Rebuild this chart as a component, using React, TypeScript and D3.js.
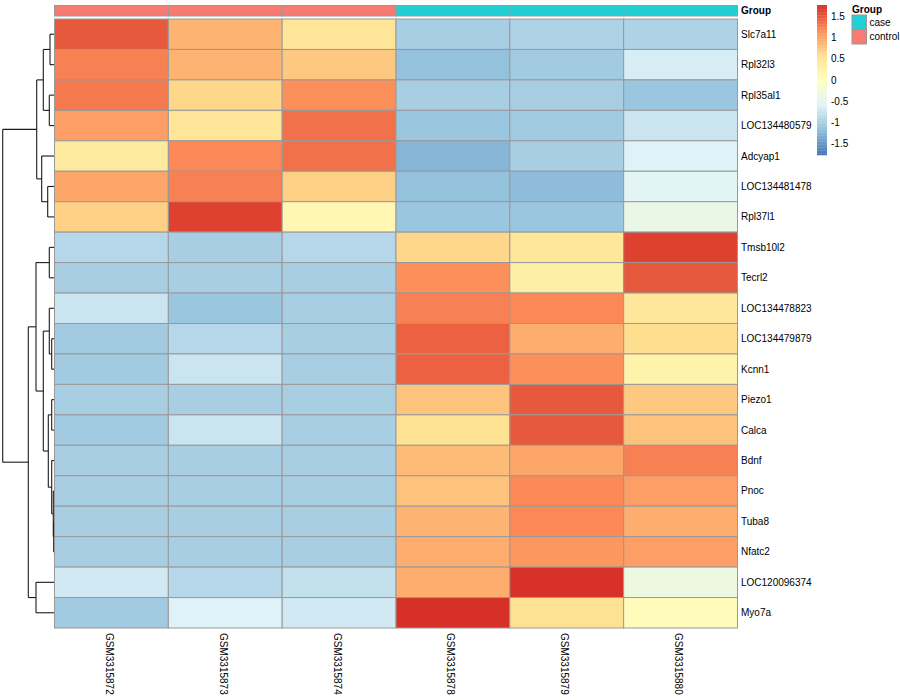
import React from "react";
import * as d3 from "d3";

const genes = [
  "Slc7a11", "Rpl32l3", "Rpl35al1", "LOC134480579", "Adcyap1", "LOC134481478", "Rpl37l1",
  "Tmsb10l2", "Tecrl2", "LOC134478823", "LOC134479879", "Kcnn1", "Piezo1", "Calca",
  "Bdnf", "Pnoc", "Tuba8", "Nfatc2", "LOC120096374", "Myo7a",
];
const samples = ["GSM3315872", "GSM3315873", "GSM3315874", "GSM3315878", "GSM3315879", "GSM3315880"];
const sampleGroups = ["control", "control", "control", "case", "case", "case"];
const groupLevels = ["case", "control"];
const groupColors = ["#22CFD4", "#F77B72"];

// row-scaled expression (z-scores), one row per gene, columns in sample order
const zValues: number[][] = [
  [1.5, 0.9, 0.5, -1.0, -0.95, -0.95],
  [1.25, 0.9, 0.75, -1.15, -1.05, -0.65],
  [1.3, 0.65, 1.15, -1.0, -1.0, -1.1],
  [1.05, 0.5, 1.35, -1.1, -1.05, -0.75],
  [0.4, 1.2, 1.35, -1.25, -1.0, -0.6],
  [1.0, 1.25, 0.7, -1.15, -1.2, -0.55],
  [0.7, 1.65, 0.15, -1.1, -1.1, -0.4],
  [-0.9, -1.0, -0.9, 0.65, 0.45, 1.65],
  [-1.0, -1.0, -1.0, 1.15, 0.3, 1.5],
  [-0.75, -1.1, -1.0, 1.25, 1.2, 0.45],
  [-1.05, -0.9, -1.0, 1.45, 0.95, 0.6],
  [-1.05, -0.75, -1.0, 1.45, 1.15, 0.25],
  [-1.0, -1.0, -1.0, 0.8, 1.5, 0.75],
  [-1.05, -0.75, -1.0, 0.55, 1.5, 0.8],
  [-1.0, -1.0, -1.0, 0.85, 1.0, 1.25],
  [-1.0, -1.0, -1.0, 0.8, 1.2, 1.05],
  [-1.0, -1.0, -1.0, 0.9, 1.2, 0.95],
  [-1.0, -1.0, -1.0, 0.95, 1.1, 1.05],
  [-0.7, -0.9, -0.8, 0.95, 1.75, -0.35],
  [-1.05, -0.6, -0.7, 1.76, 0.55, 0.05],
];

// hclust-style merges: negative = leaf (-(row index + 1)), positive = earlier merge (1-based), then height
const rowMerges: [number, number, number][] = [
  [-1, -2, 4.0],
  [-3, -4, 4.7],
  [1, 2, 10.7],
  [-6, -7, 6.3],
  [-5, 4, 12.3],
  [3, 5, 17.3],
  [-8, -9, 4.7],
  [-11, -12, 2.3],
  [-10, 8, 4.7],
  [-13, -14, 2.3],
  [-17, -18, 0.3],
  [-16, 11, 0.7],
  [-15, 12, 2.3],
  [10, 13, 5.7],
  [9, 14, 10.7],
  [7, 15, 18.0],
  [-19, -20, 18.0],
  [16, 17, 25.7],
  [6, 18, 51.3],
];

const legendTicks = [1.5, 1, 0.5, 0, -0.5, -1, -1.5];
const colorLimit = 1.76;
const palette = ["#4575B4", "#91BFDB", "#E0F3F8", "#FFFFBF", "#FEE090", "#FC8D59", "#D73027"];

const FONT = "'Liberation Sans', Arial, Helvetica, sans-serif";

export default function App() {
  const W = 900;
  const H = 700;
  const hmLeft = 54.5;
  const hmRight = 737.5;
  const hmTop = 19;
  const hmBottom = 628;
  const grid = "#999999";

  const colorScale = d3
    .scaleLinear<string>()
    .domain(d3.range(palette.length).map((i) => -colorLimit + (2 * colorLimit * i) / (palette.length - 1)))
    .range(palette)
    .interpolate(d3.interpolateRgb)
    .clamp(true);

  const x = d3.scaleBand<string>().domain(samples).range([hmLeft, hmRight]);
  const y = d3.scaleBand<string>().domain(genes).range([hmTop, hmBottom]);
  const groupColor = d3.scaleOrdinal<string, string>().domain(groupLevels).range(groupColors);

  // dendrogram
  const maxH = d3.max(rowMerges, (m) => m[2]) as number;
  const hx = d3.scaleLinear().domain([0, maxH]).range([54, 2.7]);
  const nodeY: number[] = [];
  const nodeH: number[] = [];
  const pos = (ref: number) =>
    ref < 0
      ? { y: (y(genes[-ref - 1]) as number) + y.bandwidth() / 2, h: 0 }
      : { y: nodeY[ref - 1], h: nodeH[ref - 1] };
  const segs: { x1: number; y1: number; x2: number; y2: number }[] = [];
  rowMerges.forEach(([a, b, h], i) => {
    const pa = pos(a);
    const pb = pos(b);
    nodeY[i] = (pa.y + pb.y) / 2;
    nodeH[i] = h;
    segs.push({ x1: hx(pa.h), y1: pa.y, x2: hx(h), y2: pa.y });
    segs.push({ x1: hx(pb.h), y1: pb.y, x2: hx(h), y2: pb.y });
    segs.push({ x1: hx(h), y1: pa.y, x2: hx(h), y2: pb.y });
  });

  // legend
  const legTop = 5;
  const legBottom = 155;
  const ly = d3.scaleLinear().domain([-colorLimit, colorLimit]).range([legBottom, legTop]);
  const nSteps = 100;
  const steps = d3.range(nSteps).map((i) => -colorLimit + ((i + 0.5) * 2 * colorLimit) / nSteps);
  const stepH = (legBottom - legTop) / nSteps;

  return (
    <svg
      width={W}
      height={H}
      style={{ position: "absolute", left: 0, top: 0, background: "#fff" }}
      fontFamily={FONT}
    >
      <rect width={W} height={H} fill="#fff" />
      {/* dendrogram */}
      <g stroke="#1a1a1a" strokeWidth={1.1} fill="none">
        {segs.map((s, i) => (
          <line key={i} x1={s.x1} y1={s.y1} x2={s.x2} y2={s.y2} />
        ))}
      </g>

      {/* annotation bar */}
      {samples.map((s, j) => (
        <rect
          key={s}
          x={x(s)}
          y={5.5}
          width={x.bandwidth()}
          height={10.5}
          fill={groupColor(sampleGroups[j])}
          stroke={grid}
          strokeWidth={1}
        />
      ))}
      <text x={741} y={10.75} dy="0.35em" fontSize={10} fontWeight="bold">
        Group
      </text>

      {/* heatmap cells */}
      {genes.map((g, i) =>
        samples.map((s, j) => (
          <rect
            key={g + s}
            x={x(s)}
            y={y(g)}
            width={x.bandwidth()}
            height={y.bandwidth()}
            fill={colorScale(zValues[i][j])}
            stroke={grid}
            strokeWidth={1}
          />
        ))
      )}

      {/* row labels */}
      {genes.map((g) => (
        <text key={g} x={741} y={(y(g) as number) + y.bandwidth() / 2} dy="0.35em" fontSize={10}>
          {g}
        </text>
      ))}

      {/* column labels */}
      {samples.map((s) => (
        <text
          key={s}
          transform={`translate(${(x(s) as number) + x.bandwidth() / 2},${hmBottom + 5}) rotate(90)`}
          dy="0.55em"
          fontSize={10}
          textAnchor="start"
        >
          {s}
        </text>
      ))}

      {/* color legend */}
      {steps.map((v, i) => (
        <rect
          key={i}
          x={817}
          y={ly(v) - stepH / 2}
          width={10}
          height={stepH + 0.3}
          fill={colorScale(v)}
        />
      ))}
      {legendTicks.map((t) => (
        <text key={t} x={831} y={ly(t)} dy="0.35em" fontSize={10}>
          {String(t)}
        </text>
      ))}

      {/* group legend */}
      <text x={852} y={9} dy="0.35em" fontSize={10} fontWeight="bold">
        Group
      </text>
      {groupLevels.map((lvl, i) => (
        <g key={lvl}>
          <rect
            x={852}
            y={15 + i * 14.5}
            width={14.5}
            height={14.5}
            fill={groupColor(lvl)}
            stroke={grid}
            strokeWidth={1}
          />
          <text x={869.5} y={15 + i * 14.5 + 7.25} dy="0.35em" fontSize={10}>
            {lvl}
          </text>
        </g>
      ))}
    </svg>
  );
}
